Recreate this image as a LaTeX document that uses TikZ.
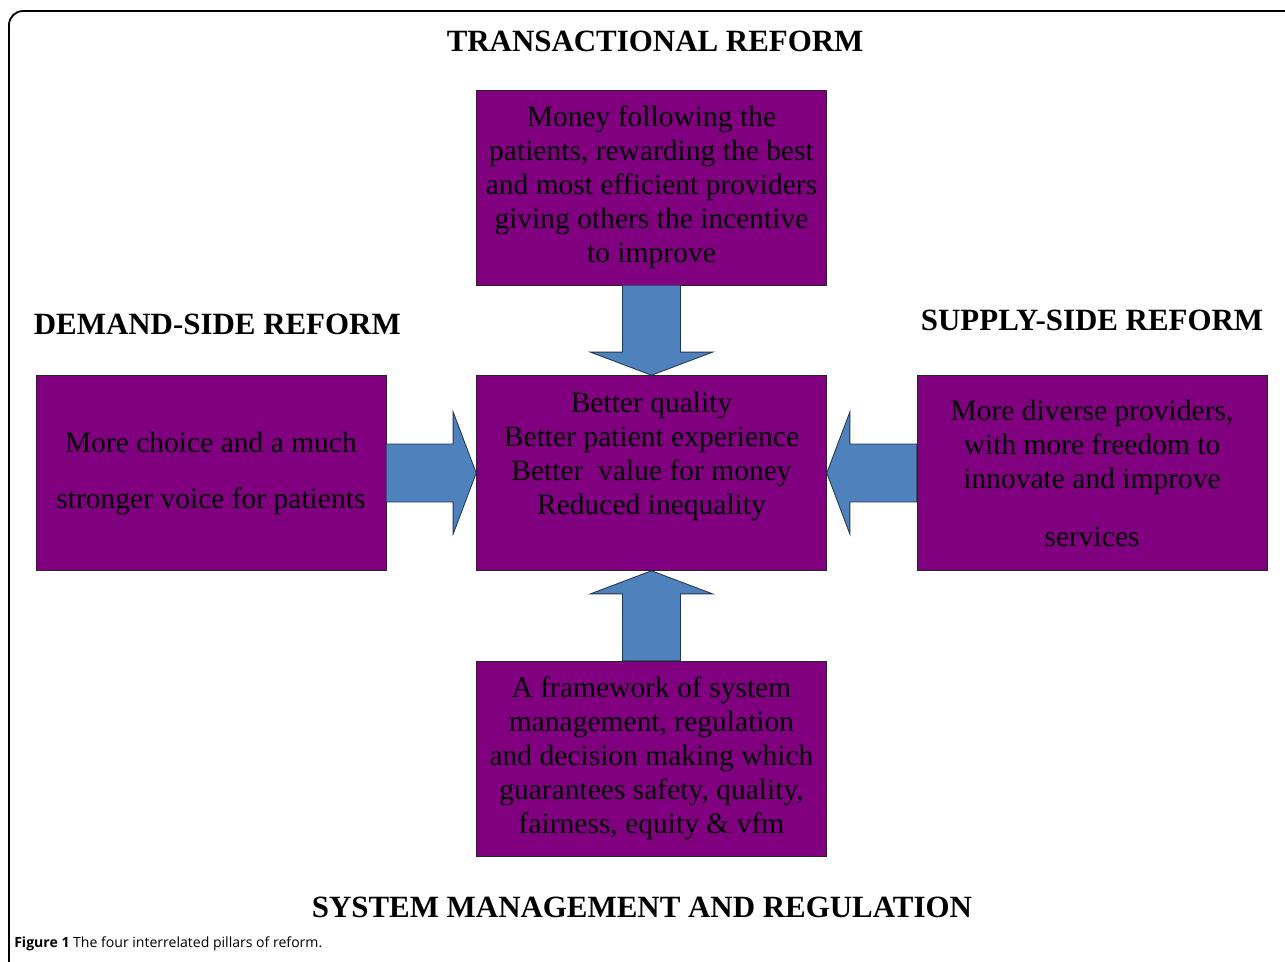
\documentclass[tikz,border=0pt]{standalone}
\usepackage{fontspec}
\setmainfont{Liberation Serif}
\newfontfamily\captionfont{Open Sans}
\usetikzlibrary{positioning,calc}

\definecolor{lila}{RGB}{128,0,128}
\definecolor{pfeilblau}{RGB}{79,129,189}
\definecolor{pfeilrand}{RGB}{35,55,85}

\begin{document}
\begin{tikzpicture}[node distance=2.25cm]

		\tikzset{%
			block/.style      = {draw=black!85, fill=lila, rectangle, minimum width=8.75cm,
				minimum height=4.875cm, inner sep=0pt, align=center,
				font=\fontsize{21}{24.2}\selectfont}, % Saeule
			titel/.style      = {inner sep=0pt, font=\fontsize{22}{26}\selectfont\bfseries}, % Ueberschrift
			pfeilachse/.style = {shift={(\tikztostart)}, rotate=\n1},
			blockpfeil/.style = {draw=pfeilrand, fill=pfeilblau, line width=0.6pt,
				to path={let \p1=($(\tikztotarget)-(\tikztostart)$), \n1={atan2(\y1,\x1)},
					\n2={veclen(\x1,\y1)} in
					([pfeilachse]0pt,-20.6pt) -- ([pfeilachse]\n2-16.4pt,-20.6pt)
					-- ([pfeilachse]\n2-16.4pt,-43.4pt) -- ([pfeilachse]\n2,0pt)
					-- ([pfeilachse]\n2-16.4pt,43.4pt) -- ([pfeilachse]\n2-16.4pt,20.6pt)
					-- ([pfeilachse]0pt,20.6pt) -- cycle}} % Blockpfeil
		}

		\useasboundingbox (0,0) rectangle (32.125,-24.05);

		% Rahmen
		\draw[line width=1.3pt, rounded corners=0.35cm] (33,-0.275) -- (0.225,-0.275) -- (0.225,-25);

		\node[block] (mitte) at (16.2875,-11.825) {Better quality\\Better patient experience\\Better\ \ value for money\\Reduced inequality\\[4pt]\mbox{}};
		\node[block, above=of mitte] (trans) {Money following the\\patients, rewarding the best\\and most efficient providers\\giving others the incentive\\to improve};
		\node[block, left=of mitte] (links) {More choice and a much\\[0.55cm]stronger voice for patients};
		\node[block, right=of mitte] (rechts) {More diverse providers,\\with more freedom to\\innovate and improve\\[0.6cm]services};
		\node[block, below=of mitte] (unten) {A framework of system\\management, regulation\\and decision making which\\guarantees safety, quality,\\fairness, equity \& vfm};

		% Ueberschriften
		\node[titel, above=0.95cm of trans, xshift=0.09cm] (titeltrans) {TRANSACTIONAL REFORM};
		\node[titel, above=1.01cm of links, xshift=0.16cm] (titellinks) {DEMAND-SIDE REFORM};
		\node[titel, above=1.11cm of rechts] (titelrechts) {SUPPLY-SIDE REFORM};
		\node[titel, below=1cm of unten, xshift=-0.24cm] (titelunten) {SYSTEM MANAGEMENT AND REGULATION};

		% Pfeile
		\draw[blockpfeil] (trans.south) to (mitte.north);
		\draw[blockpfeil] (links.east) to (mitte.west);
		\draw[blockpfeil] (rechts.west) to (mitte.east);
		\draw[blockpfeil] (unten.north) to (mitte.south);

		\node[anchor=base west, inner sep=0pt, font=\captionfont\fontsize{10}{12}\selectfont] (bildunterschrift) at (0.35,-23.675) {\textbf{Figure 1} The four interrelated pillars of reform.};
\end{tikzpicture}
\end{document}
